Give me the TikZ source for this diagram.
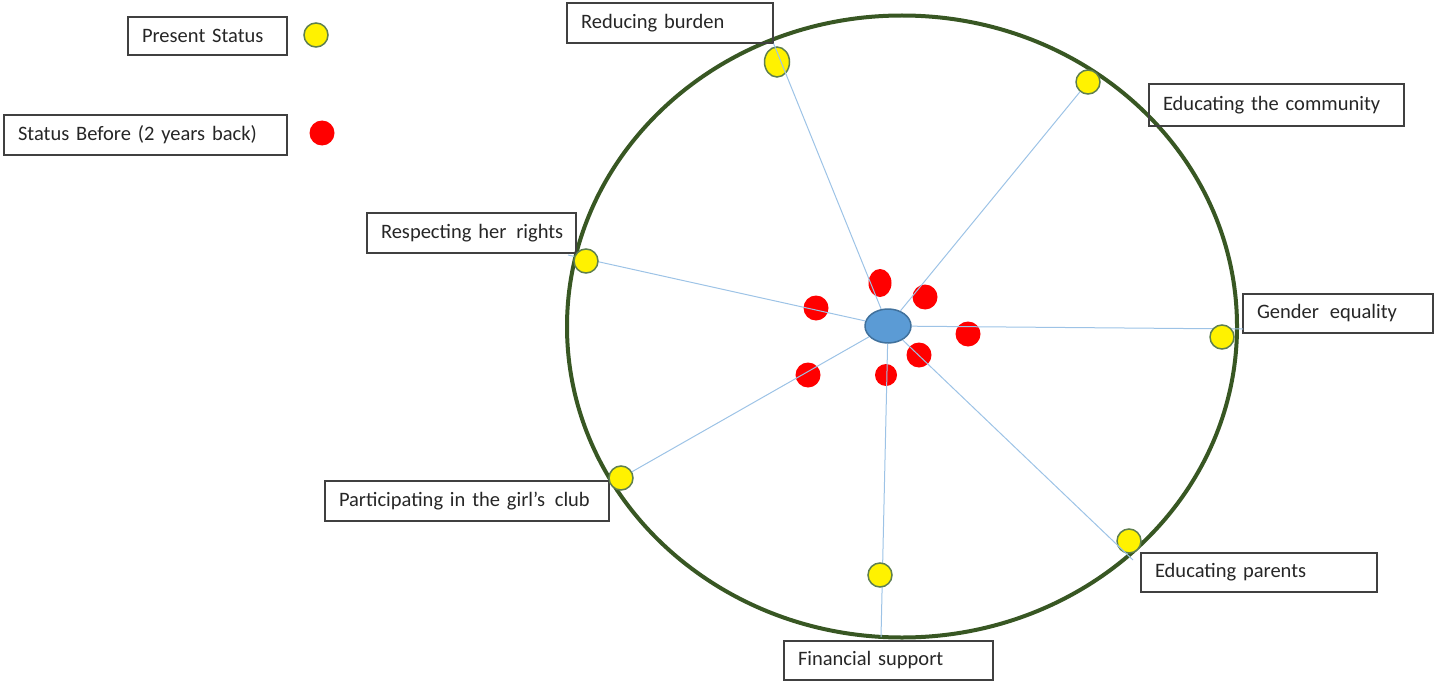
\documentclass[tikz,border=0pt]{standalone}
\usepackage{fontspec}
\setmainfont{Carlito}
\usetikzlibrary{shapes.geometric}

\definecolor{rimgreen}{HTML}{385723}
\definecolor{spokeblue}{HTML}{9DC3E6}
\definecolor{hubfill}{HTML}{5B9BD5}
\definecolor{hubline}{HTML}{41719C}
\definecolor{dotline}{HTML}{5E7F4F}
\definecolor{boxtext}{HTML}{262626}

\tikzset{
    tag/.style={draw=black!75, line width=1.2pt, text=boxtext, align=left,
        inner xsep=14pt, inner ysep=0pt, font=\fontsize{20.5}{24}\selectfont},
    present/.style={ellipse, fill=yellow, draw=dotline, line width=1.5pt,
        minimum width=24pt, minimum height=24pt, inner sep=0pt},
    before/.style={ellipse, fill=red, minimum width=25pt, minimum height=25pt, inner sep=0pt},
    spokeline/.style={draw=spokeblue, line width=1pt},
}

\begin{document}
\begin{tikzpicture}[x=1pt, y=-1pt]
    \useasboundingbox (0,0) rectangle (1439,682);

    % big ring
    \draw[rimgreen, line width=4pt] (902,326.5) ellipse [x radius=335, y radius=311];

    % label boxes
    \foreach \name/\cx/\cy/\w/\h/\txt in {
        ps/207.5/36/159/38/{Present Status},
        sb/145.5/135/283/40/{Status Before (2 years back)},
        rb/670/23/206/40/{Reducing burden},
        ec/1276.5/105/255/42/{Educating the community},
        ge/1338/313.5/190/39/{Gender\hspace{4pt} equality},
        ep/1259/572.5/236/39/{Educating parents},
        fs/888.5/660.5/209/39/{Financial support},
        pc/467/501/284/40/{Participating in the girl’s\hspace{3pt} club},
        rr/471.5/233/209/40/{Respecting her\hspace{3pt} rights}
    } {
        \pgfmathsetmacro{\tw}{\w-28}
        \node[tag, text width=\tw pt, minimum height=\h pt] (\name) at (\cx,\cy) {\mbox{\txt}};
    }

    % legend dots
    \node[present] (lp) at (316,35) {};
    \node[before] (lb) at (322,133) {};

    % hub
    \node[ellipse, fill=hubfill, draw=hubline, line width=1.5pt,
        minimum width=46pt, minimum height=34pt] (hub) at (888,326) {};

    % status before
    \node[before, minimum width=23pt, minimum height=28pt] (b1) at (880,283) {};
    \foreach \name/\x/\y in {b2/925/297, b3/816/308, b4/968/334, b5/919/355, b7/808/375} {
        \node[before] (\name) at (\x,\y) {};
    }
    \node[before, minimum width=22pt, minimum height=22pt] (b6) at (886,375) {};

    % present status (under the spokes)
    \node[present, minimum width=25pt, minimum height=30pt] (p1) at (777,62) {};
    \foreach \name/\x/\y in {p2/1088/82, p4/1129/541, p6/621/478} {
        \node[present] (\name) at (\x,\y) {};
    }

    % free ends of the spokes
    \coordinate (geend) at (1243,329);
    \coordinate (epend) at (1133,560);
    \coordinate (fsend) at (881,637);
    \coordinate (rrend) at (568,255);

    \draw[spokeline] (hub) -- (rb.south east);
    \draw[spokeline] (hub) -- (p2);
    \draw[spokeline] (hub) -- (geend);
    \draw[spokeline] (hub) -- (epend);
    \draw[spokeline] (hub) -- (fsend);
    \draw[spokeline] (hub) -- (p6);
    \draw[spokeline] (hub) -- (rrend);

    % present status (over the spokes)
    \foreach \name/\x/\y in {p3/1222/337, p5/880/575, p7/586/261} {
        \node[present] (\name) at (\x,\y) {};
    }
\end{tikzpicture}
\end{document}
